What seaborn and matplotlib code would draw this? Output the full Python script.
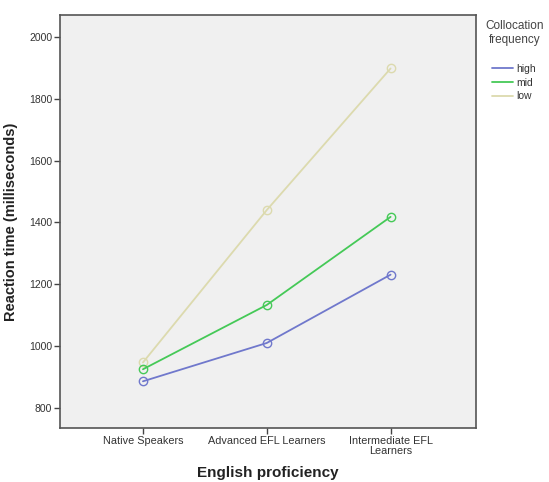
import matplotlib
matplotlib.use("Agg")
import matplotlib.pyplot as plt
import seaborn as sns
import pandas as pd
from matplotlib.lines import Line2D

groups = ["Native Speakers", "Advanced EFL Learners", "Intermediate EFL\nLearners"]
freq_levels = ["high", "mid", "low"]
high_rt = [886, 1010, 1231]
mid_rt = [925, 1133, 1418]
low_rt = [947, 1440, 1898]
y_ticks = [800, 1000, 1200, 1400, 1600, 1800, 2000]
colors = {"high": "#7078cc", "mid": "#45c957", "low": "#dcdaae"}

rows = []
for lvl, vals in zip(freq_levels, [high_rt, mid_rt, low_rt]):
    for g, v in zip(groups, vals):
        rows.append({"group": g, "freq": lvl, "rt": v})
df = pd.DataFrame(rows)
df["x"] = df["group"].map({g: i for i, g in enumerate(groups)})

sns.set_theme(style="white")
plt.rcParams["font.family"] = ["Liberation Sans", "DejaVu Sans"]

fig = plt.figure(figsize=(5.49, 4.82), dpi=100)
ax = fig.add_axes([60/549, 1-428/482, 416/549, 413/482])
ax.set_facecolor("#f0f0f0")

sns.lineplot(data=df, x="x", y="rt", hue="freq", hue_order=["low", "mid", "high"],
             palette=colors, marker="o", markersize=6, markerfacecolor="none",
             markeredgewidth=1.0, linewidth=1.3, legend=False, ax=ax,
             sort=False)
for line in ax.lines:
    line.set_markeredgecolor(line.get_color())

ax.set_xlim(-0.67, 2.69)
ax.set_ylim(735, 2071)
ax.set_xticks(range(len(groups)))
ax.set_xticklabels(groups, fontsize=7.8, color="#333333", linespacing=1.0)
ax.set_yticks(y_ticks)
ax.set_yticklabels([str(t) for t in y_ticks], fontsize=7.5, color="#333333")
ax.tick_params(axis="both", which="major", direction="out", length=4, width=1,
               color="#444444", pad=1.5, left=True, bottom=True)
for s in ax.spines.values():
    s.set_color("#555555")
    s.set_linewidth(1.2)

ax.set_xlabel("English proficiency", fontsize=11, fontweight="bold", color="#222222")
ax.set_ylabel("Reaction time (milliseconds)", fontsize=10.5, fontweight="bold", color="#222222")
ax.xaxis.set_label_coords(0.5, -(466 - 428) / 413)
ax.xaxis.label.set_va("top")
ax.yaxis.set_label_coords(-0.117, 0.5)
ax.yaxis.label.set_va("center")

handles = [Line2D([0], [0], color=colors[l], lw=1.3) for l in freq_levels]
leg = fig.legend(handles, freq_levels, loc="upper left",
                 bbox_to_anchor=(485/549, 1-20/482), frameon=False,
                 title="Collocation\nfrequency", fontsize=7.5, title_fontsize=8.5,
                 handlelength=2.0, handletextpad=0.3, labelspacing=0.35,
                 borderpad=0.0, borderaxespad=0.0)
leg.get_title().set_color("#444444")
leg.get_title().set_multialignment("center")
leg._legend_box.sep = 13
for t in leg.get_texts():
    t.set_color("#333333")

fig.savefig("out.png", dpi=100)
